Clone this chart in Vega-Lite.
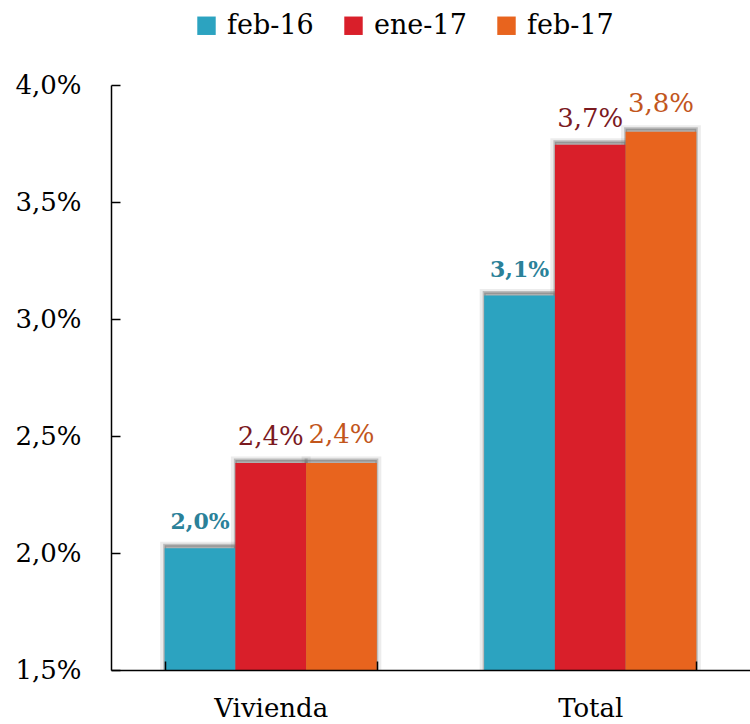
{
  "$schema": "https://vega.github.io/schema/vega-lite/v6.json",
  "width": 639,
  "height": 585,
  "autosize": "none",
  "padding": {"left": 111, "top": 85, "right": 0, "bottom": 54},
  "background": "white",
  "config": {"view": {"stroke": null}, "font": "DejaVu Serif", "legend": {"labelFont": "DejaVu Serif"}},
  "data": {"values": [
    {"grupo": "Vivienda", "serie": "feb-16", "valor": 2.02, "etiqueta": "2,0%"},
    {"grupo": "Vivienda", "serie": "ene-17", "valor": 2.385, "etiqueta": "2,4%"},
    {"grupo": "Vivienda", "serie": "feb-17", "valor": 2.385, "etiqueta": "2,4%"},
    {"grupo": "Total", "serie": "feb-16", "valor": 3.10, "etiqueta": "3,1%"},
    {"grupo": "Total", "serie": "ene-17", "valor": 3.745, "etiqueta": "3,7%"},
    {"grupo": "Total", "serie": "feb-17", "valor": 3.80, "etiqueta": "3,8%"}
  ]},
  "encoding": {
    "x": {
      "field": "grupo", "type": "nominal", "sort": ["Vivienda", "Total"],
      "scale": {"paddingInner": 0.336, "paddingOuter": 0.168},
      "axis": {
        "title": null, "labelAngle": 0, "labelFont": "DejaVu Serif",
        "labelFontSize": 26, "labelColor": "#000", "labelPadding": 34,
        "tickBand": "extent", "tickSize": -9, "tickColor": "#000", "tickWidth": 1.5,
        "domainColor": "#000", "domainWidth": 1.5, "zindex": 1
      }
    },
    "xOffset": {"field": "serie", "sort": ["feb-16", "ene-17", "feb-17"], "scale": {"paddingInner": 0, "paddingOuter": 0}},
    "y": {
      "field": "valor", "type": "quantitative",
      "scale": {"domain": [1.5, 4.0], "nice": false, "zero": false},
      "axis": {
        "title": null, "grid": false, "values": [1.5, 2.0, 2.5, 3.0, 3.5, 4.0],
        "labelExpr": "replace(format(datum.value, '.1f'), '.', ',') + '%'",
        "labelFont": "DejaVu Serif", "labelFontSize": 26, "labelColor": "#000", "labelPadding": 39,
        "tickSize": -9, "tickColor": "#000", "tickWidth": 1.5,
        "domainColor": "#000", "domainWidth": 1.5, "zindex": 1
      }
    }
  },
  "layer": [
    {"mark": {"type": "bar", "fillOpacity": 0, "stroke": "#808080", "strokeWidth": 9, "strokeOpacity": 0.15, "xOffset": -2, "yOffset": -2, "clip": true}},
    {"mark": {"type": "bar", "fill": "#666", "fillOpacity": 0.45, "stroke": "#666", "strokeWidth": 3, "strokeOpacity": 0.35, "xOffset": -2, "yOffset": -3, "clip": true}},
    {
      "mark": {"type": "bar", "clip": true},
      "encoding": {
        "color": {
          "field": "serie", "type": "nominal", "sort": ["feb-16", "ene-17", "feb-17"],
          "scale": {"domain": ["feb-16", "ene-17", "feb-17"], "range": ["#2ca3c0", "#d91f2a", "#e8641e"]},
          "legend": {
            "title": null, "orient": "none", "legendX": 82, "legendY": -73, "direction": "horizontal",
            "symbolType": "square", "symbolSize": 340, "symbolStrokeWidth": 0, "symbolOpacity": 1,
            "labelFont": "DejaVu Serif", "labelFontSize": 27, "labelColor": "#000",
            "labelOffset": 7, "columnPadding": 26
          }
        }
      }
    },
    {
      "transform": [{"filter": "datum.serie === 'feb-16'"}],
      "mark": {"type": "text", "dy": -19, "baseline": "alphabetic", "font": "DejaVu Serif", "fontSize": 22, "fontWeight": "bold", "color": "#2a8199"},
      "encoding": {"text": {"field": "etiqueta"}}
    },
    {
      "transform": [{"filter": "datum.serie === 'ene-17'"}],
      "mark": {"type": "text", "dy": -18, "baseline": "alphabetic", "font": "DejaVu Serif", "fontSize": 26, "color": "#7b1a1f"},
      "encoding": {"text": {"field": "etiqueta"}}
    },
    {
      "transform": [{"filter": "datum.serie === 'feb-17'"}],
      "mark": {"type": "text", "dy": -20, "baseline": "alphabetic", "font": "DejaVu Serif", "fontSize": 26, "color": "#c2561c"},
      "encoding": {"text": {"field": "etiqueta"}}
    }
  ]
}
